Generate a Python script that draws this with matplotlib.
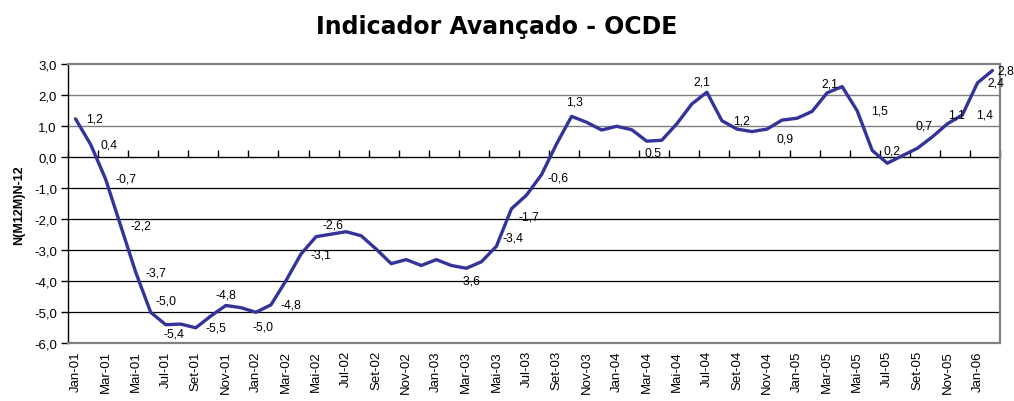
import matplotlib
matplotlib.use("Agg")
import matplotlib.pyplot as plt
import numpy as np

# ---- data ----
months_pt = ["Jan", "Fev", "Mar", "Abr", "Mai", "Jun", "Jul", "Ago", "Set", "Out", "Nov", "Dez"]
years = ["01", "02", "03", "04", "05", "06"]
categories = [f"{m}-{y}" for y in years for m in months_pt][:62]  # Jan-01 .. Fev-06

values = [1.24, 0.42, -0.70, -2.20, -3.70, -5.00, -5.40, -5.38, -5.50, -5.12,
          -4.78, -4.85, -5.00, -4.76, -3.98, -3.12, -2.56, -2.48, -2.40, -2.53,
          -2.96, -3.43, -3.30, -3.49, -3.30, -3.49, -3.58, -3.37, -2.87, -1.66,
          -1.22, -0.56, 0.43, 1.32, 1.13, 0.88, 1.00, 0.89, 0.52, 0.55,
          1.08, 1.72, 2.10, 1.18, 0.91, 0.83, 0.91, 1.20, 1.26, 1.48,
          2.08, 2.28, 1.50, 0.22, -0.19, 0.05, 0.29, 0.66, 1.08, 1.37,
          2.40, 2.80]

labelled_points = [0, 1, 2, 3, 4, 5, 6, 8, 10, 12, 13, 15, 16, 26, 27, 29, 31, 33,
                   38, 42, 43, 46, 50, 52, 53, 57, 58, 59, 60, 61]

title = "Indicador Avançado - OCDE"
ylabel = "N(M12M)N-12"
yticks = [-6, -5, -4, -3, -2, -1, 0, 1, 2, 3]

# ---- layout (label offsets in pixels: dx right, dy down) ----
label_offsets = {0: (19, 0), 1: (18, 0), 2: (20, 0), 3: (20, 0), 4: (20, 0),
                 5: (15, -12), 6: (8, 9), 8: (20, 0), 10: (0, -11), 12: (7, 14),
                 13: (20, 0), 15: (20, 0), 16: (17, -12), 26: (4, 12), 27: (32, -24),
                 29: (17, 8), 31: (16, 3), 33: (3, -15), 38: (6, 11), 42: (-5, -11),
                 43: (20, 0), 46: (18, 9), 50: (3, -9), 52: (22, 0), 53: (20, 0),
                 57: (-8, -11), 58: (9, -9), 59: (22, 0), 60: (18, 0), 61: (13, 0)}

narrow = ["Liberation Sans Narrow", "Liberation Sans", "DejaVu Sans"]

fig = plt.figure(figsize=(10.14, 4.02), dpi=100)
ax = fig.add_axes([68 / 1014, 1 - 344.3 / 402, (1000 - 68) / 1014, (344.3 - 65.3) / 402])

x = np.arange(len(values))
ax.set_xlim(-0.5, len(values) - 0.5)
ax.set_ylim(-6, 3)

# gridlines
for yv in yticks[1:-1]:
    col = "#000000" if yv <= 0 else "#7f7f7f"
    ax.axhline(yv, color=col, lw=0.9 if yv <= 0 else 1.0, zorder=1)

ax.plot(x, values, color="#333399", lw=2.4, solid_joinstyle="round",
        solid_capstyle="round", zorder=3)

for i in labelled_points:
    dx, dy = label_offsets[i]
    txt = f"{values[i]:.1f}".replace(".", ",")
    ax.annotate(txt, (x[i], values[i]), xytext=(dx, -dy), textcoords="offset pixels",
                ha="center", va="center", fontsize=8.8, family=narrow, zorder=4)

# spines
for s in ["top", "right", "bottom"]:
    ax.spines[s].set_color("#808080")
    ax.spines[s].set_linewidth(1.6)
ax.spines["left"].set_color("#000000")
ax.spines["left"].set_linewidth(1.0)

# y axis
ax.set_yticks(yticks)
ax.set_yticklabels([f"{v:.1f}".replace(".", ",") for v in yticks], family=narrow, fontsize=9.5)
ax.tick_params(axis="y", direction="out", length=5, width=1, color="black", pad=3)
ax.set_ylabel(ylabel, fontsize=9, fontweight="bold", family=["Liberation Sans", "DejaVu Sans"],
              labelpad=6)

# x tick labels at bottom, without marks
ax.set_xticks(x[::2])
ax.set_xticklabels(categories[::2], rotation=90, family=narrow, fontsize=9.5)
ax.tick_params(axis="x", length=0, pad=5)

# tick marks on the zero line, at category boundaries every 2 months
sec = ax.secondary_xaxis(6 / 9)
sec.set_xticks(np.arange(-0.5, len(values), 2))
sec.set_xticklabels([])
sec.tick_params(axis="x", direction="out", length=5, width=1, color="black")
sec.spines["bottom"].set_color("black")
sec.spines["bottom"].set_linewidth(1.0)

fig.text(497 / 1014, 1 - 27 / 402, title, ha="center", va="center",
         fontsize=17, fontweight="bold", family="DejaVu Sans")

fig.savefig("out.png", dpi=100)
